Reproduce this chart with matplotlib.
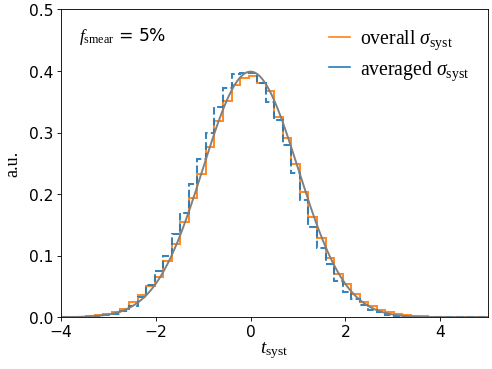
import numpy as np
import matplotlib
matplotlib.use("Agg")
import matplotlib.pyplot as plt
from matplotlib.lines import Line2D

plt.rcParams['mathtext.fontset'] = 'custom'
plt.rcParams['mathtext.rm'] = 'Liberation Serif'
plt.rcParams['mathtext.it'] = 'Liberation Serif:italic'
plt.rcParams['mathtext.bf'] = 'Liberation Serif:bold'

# Data
bin_lo, bin_hi, n_bins = -4.0, 5.0, 50
overall_heights = [
    0.0005, 0.001, 0.001, 0.002, 0.003, 0.005, 0.008, 0.014, 0.024, 0.036,
    0.051, 0.065, 0.092, 0.119, 0.154, 0.193, 0.233, 0.276, 0.318, 0.352,
    0.377, 0.388, 0.391, 0.381, 0.368, 0.326, 0.291, 0.249, 0.203, 0.163,
    0.128, 0.096, 0.070, 0.054, 0.038, 0.025, 0.018, 0.012, 0.008, 0.005,
    0.0037, 0.002, 0.0015, 0.001, 0.001, 0.0005, 0.0005, 0.0, 0.0, 0.0,
]
averaged_heights = [
    0.0003, 0.0005, 0.001, 0.001, 0.002, 0.004, 0.006, 0.010, 0.018, 0.033,
    0.052, 0.075, 0.100, 0.135, 0.170, 0.216, 0.257, 0.299, 0.341, 0.373,
    0.395, 0.397, 0.397, 0.380, 0.350, 0.320, 0.279, 0.235, 0.191, 0.147,
    0.112, 0.0865, 0.059, 0.041, 0.029, 0.020, 0.012, 0.008, 0.004, 0.002,
    0.001, 0.0005, 0.0, 0.0, 0.0, 0.0, 0.0, 0.0, 0.0, 0.0,
]
gauss_mu, gauss_sigma = 0.0, 1.0
labels = [r"overall $\sigma_{\rm syst}$", r"averaged $\sigma_{\rm syst}$"]
smear_text = r"$f_{\rm smear}$ = 5%"

edges = np.linspace(bin_lo, bin_hi, n_bins + 1)

fig = plt.figure(figsize=(6.4, 4.8), dpi=77)
ax = fig.add_axes([0.123, 0.140, 0.867, 0.833])

ax.stairs(overall_heights, edges, color='C1', lw=1.9, alpha=0.9)
ax.stairs(averaged_heights, edges, color='C0', lw=1.9, ls='--', alpha=0.9)

xs = np.linspace(bin_lo, bin_hi, 500)
ys = np.exp(-0.5 * ((xs - gauss_mu) / gauss_sigma) ** 2) / (gauss_sigma * np.sqrt(2 * np.pi))
ax.plot(xs, ys, color='gray', lw=1.8)

ax.set_xlim(-4, 5)
ax.set_ylim(0, 0.5)
ax.set_xticks([-4, -2, 0, 2, 4])
ax.set_yticks([0.0, 0.1, 0.2, 0.3, 0.4, 0.5])
ax.tick_params(labelsize=14.5)

ax.set_xlabel(r"$t_{\rm syst}$", fontsize=18, labelpad=0)
ax.set_ylabel("a.u.", family='Liberation Serif', fontsize=17, labelpad=7)

ax.text(0.043, 0.915, smear_text, transform=ax.transAxes, fontsize=16,
        family='DejaVu Sans', va='center', ha='left')

handles = [Line2D([], [], color='C1', lw=1.5), Line2D([], [], color='C0', lw=1.5)]
ax.legend(handles, labels, loc='upper right', frameon=False,
          prop={'family': 'Liberation Serif', 'size': 18.5},
          handlelength=1.05, handletextpad=0.5, labelspacing=0.35,
          borderaxespad=0.55)

fig.savefig("out.png", dpi=77)
